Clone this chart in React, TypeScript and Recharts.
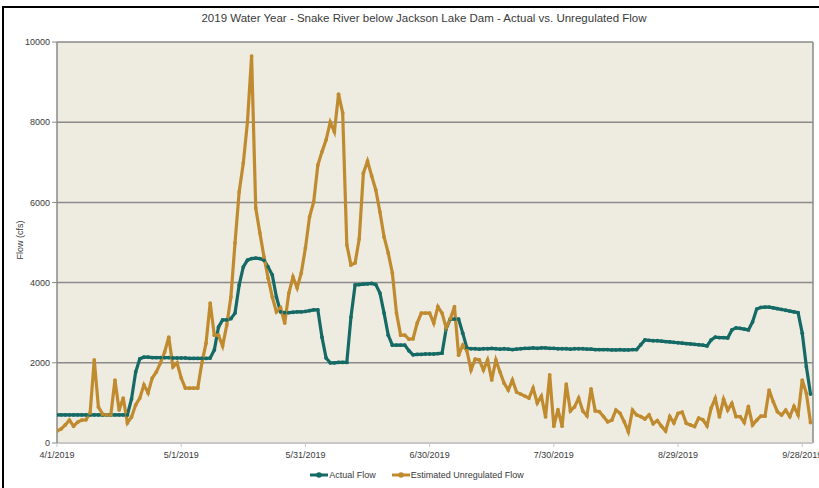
import React from "react";
import { LineChart, Line, XAxis, YAxis, CartesianGrid, ReferenceLine } from "recharts";

// daily values, 4/1/2019 .. 9/30/2019 (cfs)
const actualFlow = [
  700, 700, 700, 700, 700, 700, 700, 700, 700, 700,
  700, 700, 700, 700, 700, 700, 700, 700, 1100, 1770,
  2100, 2140, 2140, 2130, 2130, 2130, 2130, 2130, 2120, 2120,
  2120, 2120, 2110, 2110, 2110, 2110, 2110, 2120, 2320, 2890,
  3070, 3070, 3100, 3240, 3940, 4390, 4560, 4600, 4610, 4600,
  4560, 4390, 4190, 3640, 3270, 3250, 3250, 3260, 3270, 3270,
  3280, 3300, 3320, 3320, 2640, 2120, 2000, 2000, 2010, 2010,
  2010, 3140, 3940, 3950, 3960, 3970, 3980, 3950, 3740, 3240,
  2690, 2440, 2440, 2440, 2440, 2300, 2200, 2210, 2210, 2220,
  2220, 2220, 2230, 2240, 2850, 3090, 3090, 3090, 2740, 2370,
  2350, 2350, 2340, 2350, 2350, 2360, 2350, 2340, 2350, 2340,
  2330, 2340, 2350, 2360, 2360, 2370, 2360, 2370, 2370, 2360,
  2360, 2350, 2350, 2350, 2340, 2350, 2350, 2350, 2340, 2340,
  2330, 2330, 2330, 2330, 2320, 2320, 2330, 2320, 2320, 2330,
  2330, 2450, 2570, 2560, 2550, 2550, 2540, 2530, 2520, 2510,
  2500, 2490, 2480, 2470, 2460, 2450, 2440, 2420, 2570, 2640,
  2630, 2630, 2620, 2820, 2870, 2860, 2840, 2820, 3020, 3340,
  3380, 3390, 3390, 3370, 3350, 3330, 3310, 3290, 3270, 3250,
  2740, 1900, 1220,
];

const unregulatedFlow = [
  300, 350, 450, 570, 420, 520, 570, 580, 750, 2070,
  900, 720, 700, 700, 1570, 820, 1120, 500, 650, 950,
  1120, 1450, 1250, 1620, 1770, 2000, 2270, 2640, 1900, 2000,
  1620, 1370, 1370, 1370, 1370, 2000, 2490, 3490, 2690, 2690,
  2420, 2940, 3640, 4990, 6260, 6980, 8000, 9650, 5860, 5240,
  4640, 4110, 3640, 3270, 3370, 2990, 3740, 4140, 3870, 4240,
  4860, 5640, 6010, 6930, 7260, 7560, 8000, 7760, 8700, 8230,
  4940, 4440, 4490, 5090, 6730, 7030, 6660, 6310, 5760, 5140,
  4740, 4240, 3240, 2690, 2690, 2590, 2600, 2990, 3240, 3240,
  3240, 2990, 3400, 3240, 2870, 3100, 3400, 2190, 2440, 2300,
  1820, 2090, 2070, 1820, 2070, 1570, 2070, 1770, 1490, 1320,
  1570, 1270, 1220, 1170, 1120, 1370, 1000, 1170, 650, 1700,
  420, 830, 420, 1470, 800, 900, 1120, 800, 680, 1350,
  800, 780, 660, 530, 570, 820, 740, 530, 280, 820,
  700, 660, 600, 700, 480, 560, 420, 300, 660, 500,
  740, 770, 490, 450, 410, 620, 580, 430, 870, 1110,
  650, 1090, 820, 990, 660, 660, 510, 910, 450, 570,
  670, 670, 1320, 1030, 780, 700, 820, 660, 910, 700,
  1570, 1240, 510,
];

const tickDays = [0, 30, 60, 90, 120, 150, 180];
const tickLabels = ["4/1/2019", "5/1/2019", "5/31/2019", "6/30/2019", "7/30/2019", "8/29/2019", "9/28/2019"];
const yTicks = [0, 2000, 4000, 6000, 8000, 10000];

const TEAL = "#156a65";
const GOLD = "#c08b2f";
const FONT = '"Liberation Sans", Arial, sans-serif';

const data = actualFlow.map((v, i) => ({ day: i, actual: v, unregulated: unregulatedFlow[i] }));

function LegendIcon({ color }: { color: string }) {
  return (
    <svg width={18} height={8} style={{ marginRight: 1 }}>
      <line x1={0} y1={4} x2={18} y2={4} stroke={color} strokeWidth={3} />
      <circle cx={9} cy={4} r={2.8} fill={color} />
    </svg>
  );
}

export default function App() {
  return (
    <div style={{ position: "fixed", left: 0, top: 0, width: 819, height: 488, background: "#fff", overflow: "hidden", fontFamily: FONT }}>
      <div style={{ position: "absolute", left: 2, top: 6, width: 900, height: 600, border: "2px solid #000" }} />
      <div style={{ position: "absolute", left: 424, top: 12, transform: "translateX(-50%)", whiteSpace: "nowrap", fontSize: 11.5, color: "#3a3a3a" }}>
        2019 Water Year - Snake River below Jackson Lake Dam - Actual vs. Unregulated Flow
      </div>
      <div style={{ position: "absolute", left: 20, top: 240, transform: "translate(-50%, -50%) rotate(-90deg)", whiteSpace: "nowrap", fontSize: 9, color: "#3a3a3a" }}>
        Flow (cfs)
      </div>
      <div style={{ position: "absolute", left: 0, top: 0 }}>
        <LineChart width={819} height={488} data={data} margin={{ top: 42, right: 6, bottom: 0, left: 0 }}>
          <CartesianGrid vertical={false} stroke="#8a8a8a" strokeWidth={1.5} fill="#eeebe1" />
          <XAxis
            dataKey="day"
            type="number"
            domain={[0, 182.6]}
            ticks={tickDays}
            tickFormatter={(v) => tickLabels[tickDays.indexOf(v)]}
            interval={0}
            height={45}
            tick={{ fill: "#3a3a3a", fontSize: 9, fontFamily: FONT }}
            axisLine={{ stroke: "#c8c8c8", strokeWidth: 2 }}
            tickLine={{ stroke: "#c8c8c8" }}
            tickSize={4}
            tickMargin={5}
            allowDataOverflow
          />
          <YAxis
            domain={[0, 10000]}
            ticks={yTicks}
            interval={0}
            width={57}
            tick={{ fill: "#3a3a3a", fontSize: 9, fontFamily: FONT }}
            axisLine={{ stroke: "#8a8a8a", strokeWidth: 1.5 }}
            tickLine={{ stroke: "#8a8a8a" }}
            tickSize={5}
            tickMargin={2}
          />
          <ReferenceLine x={182.6} stroke="#8a8a8a" strokeWidth={1.5} ifOverflow="extendDomain" />
          <Line
            dataKey="actual"
            stroke={TEAL}
            strokeWidth={3.2}
            dot={{ r: 1.9, fill: TEAL, stroke: TEAL, strokeWidth: 0 }}
            isAnimationActive={false}
          />
          <Line
            dataKey="unregulated"
            stroke={GOLD}
            strokeWidth={3.2}
            dot={{ r: 1.9, fill: GOLD, stroke: GOLD, strokeWidth: 0 }}
            isAnimationActive={false}
          />
        </LineChart>
      </div>
      <div style={{ position: "absolute", left: 0, width: 834, top: 470, display: "flex", justifyContent: "center", alignItems: "center", fontSize: 9, color: "#3a3a3a" }}>
        <span style={{ display: "flex", alignItems: "center", marginRight: 16 }}>
          <LegendIcon color={TEAL} />Actual Flow
        </span>
        <span style={{ display: "flex", alignItems: "center" }}>
          <LegendIcon color={GOLD} />Estimated Unregulated Flow
        </span>
      </div>
    </div>
  );
}
